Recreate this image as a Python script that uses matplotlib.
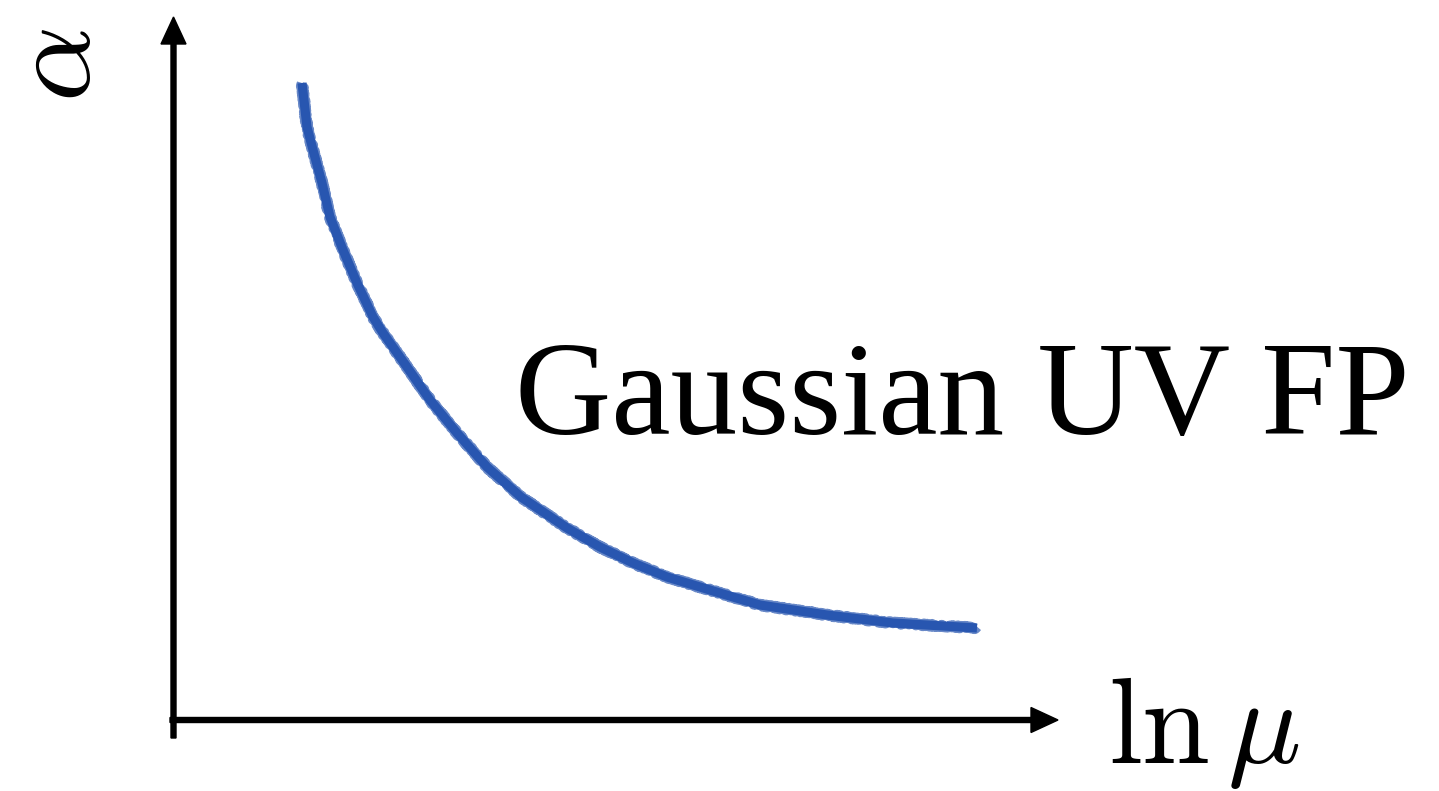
import matplotlib
matplotlib.use("Agg")
import matplotlib.pyplot as plt

# Running coupling alpha versus ln(mu), flowing towards the Gaussian UV fixed point
ln_mu = [1.28, 1.33, 1.39, 1.48, 1.56, 1.69, 1.83, 1.99, 2.09, 2.33, 2.56, 2.83,
         3.13, 3.47, 3.93, 4.26, 4.59, 4.93, 5.26, 5.59, 5.86, 6.53, 7.19, 8.03]
alpha = [6.37, 5.93, 5.70, 5.37, 5.03, 4.70, 4.37, 4.03, 3.87, 3.53, 3.20, 2.87,
         2.53, 2.23, 1.92, 1.73, 1.57, 1.43, 1.33, 1.23, 1.15, 1.05, 0.97, 0.92]

x_label = r"$\ln\mu$"
y_label = r"$\alpha$"
annotation = "Gaussian UV FP"

plt.rcParams["mathtext.fontset"] = "cm"

fig = plt.figure(figsize=(14.39, 7.91), dpi=100)
ax = fig.add_axes([0, 0, 1, 1])
ax.set_xlim(-1.74, 12.65)
ax.set_ylim(-0.71, 7.20)
ax.axis("off")

curve_color = "#2856b0"
ax.plot(ln_mu, alpha, color=curve_color, lw=6.6, solid_capstyle="butt",
        solid_joinstyle="round", zorder=3)
rough, = ax.plot(ln_mu, alpha, color=curve_color, lw=7.4, alpha=0.7,
                 solid_capstyle="butt", zorder=3)
rough.set_sketch_params(scale=1.3, length=3, randomness=6)

# Coordinate axes drawn as arrows
arrow_kw = dict(width=0.05, head_width=0.25, head_length=0.27,
                length_includes_head=True, color="black", zorder=2)
ax.arrow(-0.005, -0.18, 0, 7.21, **arrow_kw)
ax.arrow(-0.04, 0, 8.88, 0, **arrow_kw)

ax.text(-1.17, 6.55, y_label, rotation=90, fontsize=86,
        ha="center", va="center")
ax.text(9.34, -0.43, x_label, fontsize=88, ha="left", va="baseline")
ax.text(3.41, 2.86, annotation, fontsize=96, family="Liberation Serif",
        ha="left", va="baseline")

fig.savefig("out.png", dpi=100)
